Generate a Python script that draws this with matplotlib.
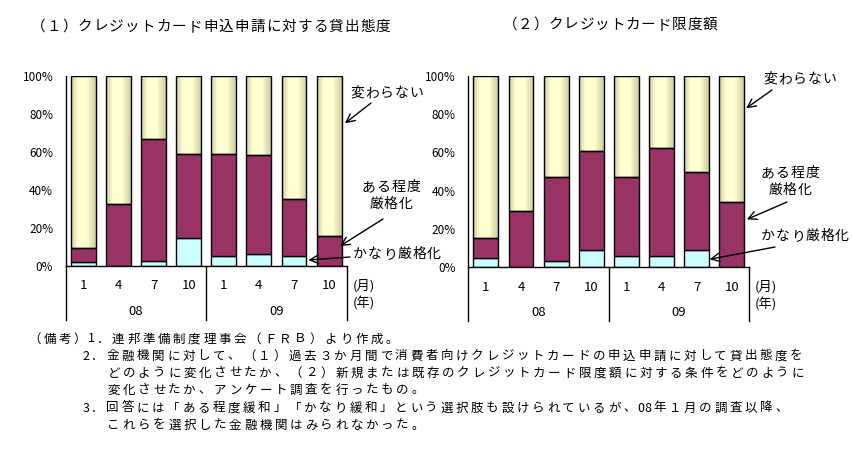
import numpy as np
import matplotlib
matplotlib.use('Agg')
import matplotlib.pyplot as plt
from matplotlib.patches import Rectangle

plt.rcParams['font.family'] = ['Noto Sans CJK JP', 'DejaVu Sans']

months = ['1', '4', '7', '10', '1', '4', '7', '10']
years = ['08', '09']
ytick_vals = [0, 20, 40, 60, 80, 100]

# (1) 貸出態度
c1_kanari = [2.1, 0.0, 2.6, 14.7, 5.6, 6.3, 5.6, 0.0]
c1_aru = [7.3, 32.5, 64.0, 44.0, 53.1, 51.9, 29.5, 15.7]
c1_kawaranai = [90.6, 67.5, 33.4, 41.3, 41.3, 41.8, 64.9, 84.3]
# (2) 限度額
c2_kanari = [5.1, 0.0, 3.5, 9.2, 6.1, 6.1, 9.2, 0.0]
c2_aru = [10.4, 29.6, 43.4, 51.3, 40.8, 56.4, 40.8, 34.3]
c2_kawaranai = [84.5, 70.4, 53.1, 39.5, 53.1, 37.5, 50.0, 65.7]

W, H = 853, 450
MAG = '#993366'
CYAN = '#CCFFFF'


def fp(x, y):
    return (x / W, 1 - y / H)


# yellow gradient (darker edges, light centre)
t = np.linspace(0, 1, 60)
peak = 0.42
prof = np.where(t < peak, t / peak, (1 - t) / (1 - peak))
prof = np.clip(prof * 1.6, 0, 1)
dark = np.array([0.80, 0.80, 0.62])
light = np.array([1.0, 1.0, 0.82])
grad = dark[None, :] + (light - dark)[None, :] * prof[:, None]
grad = grad[None, :, :]


def draw_chart(ax, kanari, aru, kawaranai):
    x = np.arange(len(months))
    w = 0.71
    kanari = np.array(kanari)
    aru = np.array(aru)
    kawaranai = np.array(kawaranai)
    ax.bar(x, kanari, w, color=CYAN, edgecolor='black', linewidth=1, zorder=2)
    ax.bar(x, aru, w, bottom=kanari, color=MAG, edgecolor='black', linewidth=1, zorder=2)
    for xi, b, h in zip(x, kanari + aru, kawaranai):
        ax.imshow(grad, extent=[xi - w / 2, xi + w / 2, b, b + h], aspect='auto', zorder=1,
                  interpolation='bilinear')
        ax.add_patch(Rectangle((xi - w / 2, b), w, h, fill=False, edgecolor='black',
                               linewidth=1, zorder=3))
    ax.set_xlim(-0.5, 7.5)
    ax.set_ylim(0, 100)
    ax.set_xticks([])
    ax.set_yticks(ytick_vals)
    ax.set_yticklabels([f'{v}%' for v in ytick_vals], fontsize=8.5)
    ax.tick_params(axis='y', length=0, pad=9)
    for s in ['top', 'right']:
        ax.spines[s].set_visible(False)
    ax.spines['left'].set_linewidth(1)
    ax.spines['bottom'].set_linewidth(1)
    # category box
    for xv in [-0.5, 3.5, 7.5]:
        ax.plot([xv, xv], [0, -28], color='black', lw=1, clip_on=False)
    for xi, m in zip(x, months):
        ax.text(xi, -10.3, m, ha='center', va='center', fontsize=9.5, clip_on=False)
    for i, yr in enumerate(years):
        ax.text(1.5 + 4 * i, -23.8, yr, ha='center', va='center', fontsize=9.5, clip_on=False)
    ax.text(7.66, -10.3, '(月)', ha='left', va='center', fontsize=9.5, clip_on=False)
    ax.text(7.66, -19.3, '(年)', ha='left', va='center', fontsize=9.5, clip_on=False)


def spaced(x, y, s, pitch, size, align='left'):
    # place characters on a fixed pitch (half pitch for ASCII), like the original bitmap font
    widths = [pitch / 2 if ord(c) < 128 else pitch for c in s]
    total = sum(widths)
    if align == 'center':
        x = x - total / 2
    for c, wd in zip(s, widths):
        fig.text(*fp(x + wd / 2, y), c, ha='center', va='center', fontsize=size)
        x += wd


fig = plt.figure(figsize=(W / 100, H / 100), dpi=100)
ax1 = fig.add_axes([65.7 / W, 1 - 266.3 / H, 281 / W, 190.6 / H])
ax2 = fig.add_axes([468.3 / W, 1 - 267.3 / H, 281 / W, 191.6 / H])
draw_chart(ax1, c1_kanari, c1_aru, c1_kawaranai)
draw_chart(ax2, c2_kanari, c2_aru, c2_kawaranai)

spaced(30, 27, '（１）クレジットカード申込申請に対する貸出態度', 15.7, 10.5)
spaced(502, 25, '（２）クレジットカード限度額', 15.4, 10.5)

arrow = dict(arrowstyle='->,head_length=0.6,head_width=0.3', lw=1, color='black',
             shrinkA=0, shrinkB=0)


def label(ax, lines, tpos, start, tip):
    for k, ln in enumerate(lines):
        spaced(tpos[0], tpos[1] + 17 * k, ln, 14.8, 10, align='center')
    ax.annotate('', xy=tip, xycoords='data', xytext=fp(*start), textcoords='figure fraction',
                arrowprops=arrow, annotation_clip=False)


label(ax1, ['変わらない'], (387, 93), (371, 103), (7.45, 75))
label(ax1, ['ある程度', '厳格化'], (391, 187), (383, 219), (7.31, 10.6))
label(ax1, ['かなり厳格化'], (397, 254), (350, 257), (6.41, 3.3))
label(ax2, ['変わらない'], (800, 79), (772, 90), (7.41, 83))
label(ax2, ['ある程度', '厳格化'], (790, 173), (787, 202), (7.43, 25))
label(ax2, ['かなり厳格化'], (805, 236), (775, 247), (6.37, 4.2))

notes = [
    (27, 339, '（備考）1．連邦準備制度理事会（ＦＲＢ）より作成。'),
    (82, 356, '2．金融機関に対して、（１）過去３か月間で消費者向けクレジットカードの申込申請に対して貸出態度を'),
    (106, 373, 'どのように変化させたか、（２）新規または既存のクレジットカード限度額に対する条件をどのように'),
    (106, 390, '変化させたか、アンケート調査を行ったもの。'),
    (82, 408, '3．回答には「ある程度緩和」「かなり緩和」という選択肢も設けられているが、08年１月の調査以降、'),
    (106, 425, 'これらを選択した金融機関はみられなかった。'),
]
for nx, ny, txt in notes:
    spaced(nx, ny, txt, 15.2, 9)

fig.savefig('out.png', dpi=100)
